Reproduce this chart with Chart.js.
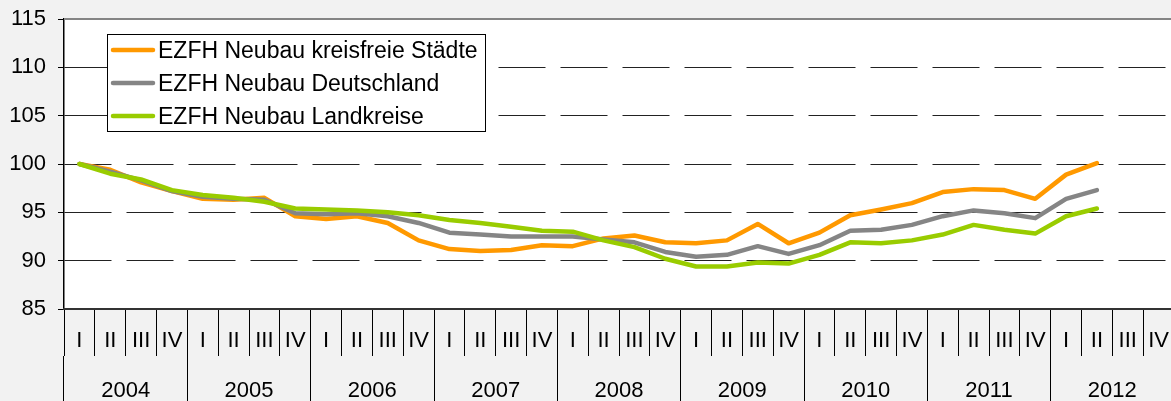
<!DOCTYPE html>
<html>
<head>
<meta charset="utf-8">
<script src="https://cdn.jsdelivr.net/npm/chart.js@4"></script>
<style>
  html, body { margin: 0; padding: 0; background: #f2f2f2; overflow: hidden; }
  #wrap { width: 1175px; height: 401px; position: relative; }
</style>
</head>
<body>
<div id="wrap"><canvas id="priceChart"></canvas></div>
<script>
// Quarter / year categories
const quarterNames = ['I', 'II', 'III', 'IV'];
const years = ['2004', '2005', '2006', '2007', '2008', '2009', '2010', '2011', '2012'];
const quarterLabels = years.flatMap(() => quarterNames);

// Index values (2004 I = 100)
const staedte = [100, 99.4, 98.1, 97.2, 96.4, 96.3, 96.5, 94.6, 94.3, 94.6, 93.9, 92.1,
  91.2, 91.0, 91.1, 91.6, 91.5, 92.3, 92.6, 91.9, 91.8, 92.1, 93.8, 91.8,
  92.9, 94.7, 95.3, 95.95, 97.1, 97.4, 97.3, 96.4, 98.9, 100.1];
const deutschland = [100, 99.2, 98.3, 97.2, 96.6, 96.4, 96.3, 94.9, 94.8, 94.9, 94.6, 93.9,
  92.9, 92.7, 92.5, 92.5, 92.5, 92.2, 91.9, 90.9, 90.4, 90.6, 91.5, 90.7,
  91.6, 93.1, 93.2, 93.7, 94.6, 95.2, 94.9, 94.4, 96.4, 97.3];
const landkreise = [100, 99.0, 98.4, 97.3, 96.8, 96.5, 96.1, 95.4, 95.3, 95.2, 95.0, 94.7,
  94.2, 93.9, 93.5, 93.1, 93.0, 92.1, 91.4, 90.2, 89.4, 89.4, 89.8, 89.7,
  90.6, 91.9, 91.8, 92.1, 92.7, 93.7, 93.2, 92.8, 94.6, 95.4];

const FONT = '"Liberation Sans", Arial, sans-serif';

// white plot area, grey top border and the boxed legend inside the plot
const plotDecor = {
  id: 'plotDecor',
  beforeDraw(chart) {
    const { ctx, chartArea: a } = chart;
    ctx.save();
    ctx.fillStyle = '#ffffff';
    ctx.fillRect(a.left, a.top, a.right - a.left, a.bottom - a.top);
    ctx.restore();
  },
  afterDraw(chart) {
    const { ctx, chartArea: a } = chart;
    ctx.save();
    ctx.strokeStyle = '#858585';
    ctx.lineWidth = 2;
    ctx.beginPath();
    ctx.moveTo(a.left, a.top);
    ctx.lineTo(a.right, a.top);
    ctx.stroke();

    // legend box
    ctx.fillStyle = '#ffffff';
    ctx.fillRect(107.5, 34.5, 378, 97);
    ctx.strokeStyle = '#000';
    ctx.lineWidth = 1;
    ctx.strokeRect(107.5, 34.5, 378, 97);
    ctx.font = '23px ' + FONT;
    ctx.textBaseline = 'alphabetic';
    ctx.fillStyle = '#000';
    chart.data.datasets.forEach((ds, i) => {
      const y = 50 + i * 33;
      ctx.strokeStyle = ds.borderColor;
      ctx.lineWidth = 4.5;
      ctx.lineCap = 'round';
      ctx.beginPath();
      ctx.moveTo(113, y);
      ctx.lineTo(153, y);
      ctx.stroke();
      ctx.fillText(ds.label, 158, y + 7.5);
    });
    ctx.restore();
  }
};

const lineStyle = { borderWidth: 4.5, pointRadius: 0, tension: 0, borderCapStyle: 'round', borderJoinStyle: 'round', fill: false };

const chart = new Chart(document.getElementById('priceChart'), {
  type: 'line',
  data: {
    labels: quarterLabels,
    datasets: [
      { label: 'EZFH Neubau kreisfreie Städte', data: staedte, borderColor: '#ff9900', order: 3, ...lineStyle },
      { label: 'EZFH Neubau Deutschland', data: deutschland, borderColor: '#858585', order: 2, ...lineStyle },
      { label: 'EZFH Neubau Landkreise', data: landkreise, borderColor: '#99cc00', order: 1, ...lineStyle }
    ]
  },
  options: {
    responsive: true,
    maintainAspectRatio: false,
    animation: false,
    layout: { padding: { top: 19, right: 1, left: 0, bottom: 0 } },
    plugins: { legend: { display: false }, tooltip: { enabled: false } },
    scales: {
      y: {
        min: 85,
        max: 115,
        afterFit(scale) {
          scale.width = 64;
          scale.paddingTop = 0;
          scale.paddingBottom = 0;
        },
        ticks: { stepSize: 5, color: '#000', padding: 12, font: { size: 22, family: FONT } },
        grid: {
          color: (c) => (c.tick && (c.tick.value === 85 || c.tick.value === 115)) ? 'rgba(0,0,0,0)' : '#222',
          lineWidth: 1,
          drawTicks: true,
          tickLength: 6,
          tickColor: '#000',
          tickBorderDash: []
        },
        border: { display: true, color: '#000', width: 1.5, dash: [47, 15] }
      },
      x: {
        weight: 0,
        offset: true,
        afterFit(scale) { scale.height = 47; },
        ticks: { color: '#000', autoSkip: false, maxRotation: 0, padding: -26, font: { size: 22, family: FONT, lineHeight: 1 } },
        grid: { offset: true, drawOnChartArea: false, drawTicks: true, tickLength: 47, color: '#000', tickColor: '#000', lineWidth: 1 },
        border: { display: true, color: '#333', width: 2 }
      },
      x2: {
        type: 'category',
        labels: years,
        position: 'bottom',
        weight: 1,
        offset: true,
        afterFit(scale) { scale.height = 45; },
        ticks: { color: '#000', autoSkip: false, maxRotation: 0, padding: -21, font: { size: 22, family: FONT, lineHeight: 1 } },
        grid: { offset: true, drawOnChartArea: false, drawTicks: true, tickLength: 45, color: '#000', tickColor: '#000', lineWidth: 1 },
        border: { display: false }
      }
    }
  },
  plugins: [plotDecor]
});
</script>
</body>
</html>
